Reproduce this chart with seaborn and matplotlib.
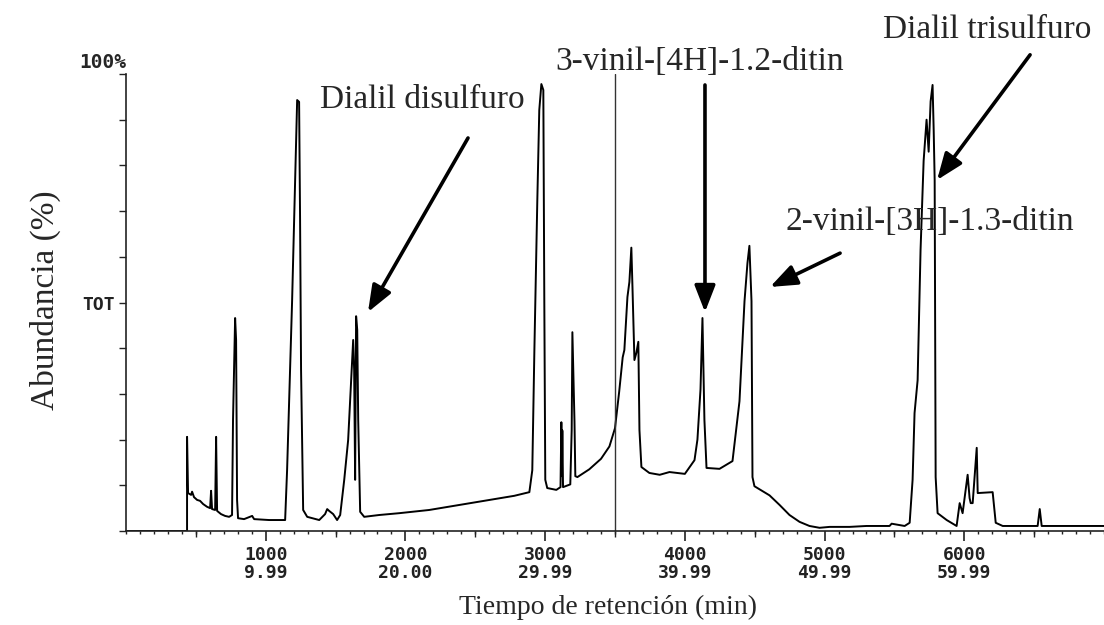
import pandas as pd
import matplotlib.pyplot as plt
import matplotlib.transforms as mtransforms
from matplotlib.ticker import MultipleLocator
import seaborn as sns

# Chromatogram trace (scan number, % abundance)
scan = [0, 437, 437, 444, 466, 473, 487, 509, 530, 552, 580, 602, 609, 616,
        638, 645, 652, 680, 709, 738, 759, 766, 781, 788, 795, 802, 845, 903,
        917, 1024, 1139, 1153, 1168, 1189, 1211, 1225, 1239, 1246, 1253, 1268,
        1297, 1383, 1425, 1440, 1454, 1483, 1511, 1533, 1562, 1590, 1612, 1626,
        1633, 1640, 1647, 1655, 1662, 1676, 1705, 1812, 1956, 2170, 2385, 2600,
        2779, 2887, 2908, 2923, 2944, 2958, 2973, 2987, 2994, 3001, 3015, 3080,
        3110, 3116, 3120, 3123, 3128, 3180, 3190, 3195, 3210, 3216, 3231, 3316,
        3400, 3460, 3500, 3530, 3555, 3567, 3589, 3603, 3617, 3625, 3639, 3653,
        3667, 3675, 3689, 3746, 3820, 3890, 4000, 4069, 4090, 4112, 4126, 4140,
        4155, 4248, 4341, 4391, 4427, 4448, 4462, 4477, 4484, 4498, 4606, 4678,
        4749, 4821, 4892, 4964, 5036, 5179, 5300, 5465, 5480, 5573, 5609, 5630,
        5644, 5666, 5687, 5709, 5730, 5745, 5759, 5773, 5781, 5788, 5795, 5809,
        5874, 5945, 5967, 5988, 6024, 6038, 6046, 6060, 6089, 6096, 6203, 6225,
        6275, 6525, 6540, 6554, 6805, 7000]
abundance = [0, 0, 20.6, 8.3, 7.9, 8.6, 7.4, 6.8, 6.6, 5.9, 5.3, 5.0, 8.8, 4.8,
             4.6, 20.6, 4.4, 3.7, 3.3, 3.1, 3.5, 24.3, 46.6, 41.8, 6.8, 2.8, 2.6, 3.3,
             2.6, 2.4, 2.4, 13.3, 28.7, 50.5, 76.8, 94.3, 93.9, 68.0, 35.2, 4.6,
             3.1, 2.4, 3.7, 4.8, 4.4, 3.7, 2.4, 3.5, 11.2, 19.9, 33.0, 41.8,
             35.2, 11.2, 47.0, 44.0, 24.3, 4.2, 3.1, 3.5, 3.9, 4.6, 5.7, 6.8,
             7.7, 8.5, 13.3, 39.6, 72.4, 92.1, 97.8, 96.5, 50.5, 11.2, 9.4, 9.0,
             9.6, 23.8, 12.0, 22.0, 9.6, 10.2, 22.1, 43.5, 24.0, 12.0, 11.8, 13.5,
             15.8, 18.5, 22.5, 30.5, 38.0, 39.6, 51.2, 54.5, 62.0, 53.4, 37.4, 39.0,
             41.4, 22.1, 14.0, 12.7, 12.3, 12.9, 12.5, 15.5, 20.0, 31.0, 46.6, 24.3,
             13.8, 13.6, 15.3, 28.4, 50.3, 58.6, 62.4, 50.3, 11.8, 9.8, 7.8, 5.7,
             3.5, 2.0, 1.1, 0.7, 0.9, 0.9, 1.1, 1.1, 1.6, 1.1, 1.8, 11.2,
             25.8, 33.0, 61.5, 81.0, 90.0, 83.0, 94.0, 97.6, 87.7, 76.8, 11.8, 3.9,
             2.4, 1.1, 6.1, 3.9, 12.3, 7.2, 6.1, 6.1, 18.2, 8.3, 8.5, 1.8,
             1.1, 1.1, 4.8, 1.1, 1.1, 1.1]

x_ticks = [1000, 2000, 3000, 4000, 5000, 6000]
x_tick_labels = ["1000\n9.99", "2000\n20.00", "3000\n29.99",
                 "4000\n39.99", "5000\n49.99", "6000\n59.99"]
mid_ticks = [500, 1500, 2500, 3500, 4500, 5500, 6500]

# compound labels: text, text position, arrow tail, arrow head
peak_names = ["Dialil disulfuro", "3-vinil-[4H]-1.2-ditin",
              "Dialil trisulfuro", "2-vinil-[3H]-1.3-ditin"]
name_pos = [(2119, 94.3), (4108, 102.6), (6163, 109.6), (5755, 67.6)]
arrow_tail = [(2448, 86.0), (4144, 97.6), (6471, 104.2), (5111, 60.8)]
arrow_head = [(1732, 47.9), (4144, 47.9), (5805, 76.8), (4610, 53.4)]

sns.set_style("ticks")
plt.rcParams["font.family"] = ["Liberation Serif", "DejaVu Serif"]

fig = plt.figure(figsize=(11.04, 6.25), dpi=100)
ax = fig.add_axes([126 / 1104, 94 / 625, 978 / 1104, 457 / 625])

df = pd.DataFrame({"scan": scan, "abundancia": abundance})
sns.lineplot(data=df, x="scan", y="abundancia", sort=False, estimator=None,
             color="black", lw=1.4, ax=ax)
ax.axvline(3500, color="#333333", lw=1)

ax.set_xlim(0, 7000)
ax.set_ylim(0, 100)
sns.despine(ax=ax)
for s in ["left", "bottom"]:
    ax.spines[s].set_color("#222222")
    ax.spines[s].set_linewidth(1.2)

mono = dict(family="DejaVu Sans Mono", weight="bold", size=13)
ax.set_xticks(x_ticks, x_tick_labels, **mono)
for lbl in ax.get_xticklabels():
    lbl.set_linespacing(1.0)
ax.xaxis.set_minor_locator(MultipleLocator(100))
ax.tick_params(axis="x", which="major", length=7, width=1.2, pad=4, colors="#222222")
ax.tick_params(axis="x", which="minor", length=2.5, width=1.0, colors="#222222")

sec = ax.secondary_xaxis("bottom")
sec.set_xticks(mid_ticks)
sec.tick_params(length=4.5, width=1.0, labelbottom=False, colors="#222222")
sec.spines["bottom"].set_visible(False)

y_ticks = list(range(0, 101, 10))
ax.set_yticks(y_ticks, ["TOT" if v == 50 else "" for v in y_ticks], **mono)
ax.tick_params(axis="y", length=5, width=1.0, pad=3, colors="#222222")
trans = mtransforms.blended_transform_factory(ax.transAxes, ax.transData)
ax.text(0, 100.4, "100%", transform=trans, ha="right", va="bottom",
        family="DejaVu Sans Mono", weight="bold", size=14)

ax.set_xlabel("Tiempo de retención (min)", fontsize=20)
ax.set_ylabel("Abundancia (%)", fontsize=24)
ax.xaxis.set_label_coords(0.493, -0.14)
ax.yaxis.set_label_coords(-0.066, 0.505)

for name, pos, tail, head in zip(peak_names, name_pos, arrow_tail, arrow_head):
    ax.annotate("", xy=head, xytext=tail, annotation_clip=False,
                arrowprops=dict(arrowstyle="-|>,head_length=0.9,head_width=0.35",
                                lw=2.6, color="black", mutation_scale=18,
                                shrinkA=0, shrinkB=0))
    ax.text(pos[0], pos[1], name, ha="center", va="center", fontsize=24,
            clip_on=False)

plt.savefig("out.png", dpi=100)
